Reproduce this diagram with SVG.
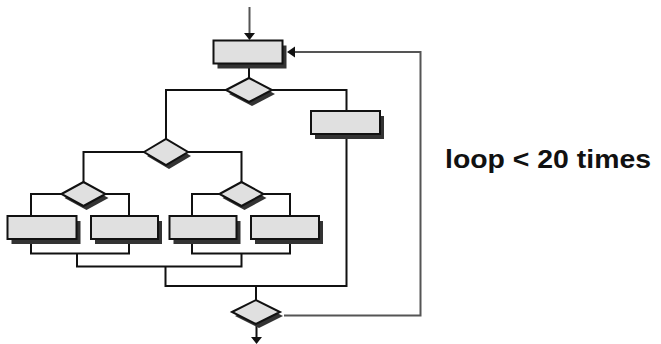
<svg xmlns="http://www.w3.org/2000/svg" width="661" height="344" viewBox="0 0 661 344">
<style>
.box{fill:#e0e0e0;stroke:#111;stroke-width:2}
.sh{fill:#333;stroke:none}
.ln{fill:none;stroke:#111;stroke-width:2}
.gl{fill:none;stroke:#555;stroke-width:2}
.ah{fill:#111;stroke:none}
.lbl{font-family:"Liberation Sans",Arial,sans-serif;font-weight:bold;font-size:25px;fill:#111}
</style>
<rect width="661" height="344" fill="#fff"/>
<g id="connectors">
<path class="gl" d="M249.5,7 V34"/>
<polygon class="ah" points="244,33 255,33 249.5,40"/>
<path class="ln" d="M249,63.5 V78"/>
<path class="ln" d="M226,90 H166 V139"/>
<path class="ln" d="M272,90 H346.5 V111"/>
<path class="ln" d="M144,152 H83.5 V182"/>
<path class="ln" d="M188,152 H241.5 V182"/>
<path class="ln" d="M61.5,194 H31 V216"/>
<path class="ln" d="M105.5,194 H129 V216"/>
<path class="ln" d="M219.5,194 H192 V216"/>
<path class="ln" d="M263.5,194 H290 V216"/>
<path class="ln" d="M31,239 V253.5 H129 V239"/>
<path class="ln" d="M192,239 V253.5 H290 V239"/>
<path class="ln" d="M77,253.5 V266.5 H241.5 V253.5"/>
<path class="ln" d="M165.5,266.5 V286 H346.5 V134"/>
<path class="ln" d="M256,286 V300"/>
<path class="ln" d="M256.5,324 V338"/>
<polygon class="ah" points="251,337 262,337 256.5,344"/>
<path class="gl" d="M284,315.5 H420.5 V52 H293"/>
<polygon class="ah" points="287,52 295,46.5 295,57.5"/>
</g>
<g id="boxA"><rect class="sh" x="217.5" y="45.5" width="69" height="23"/><rect class="box" x="213.5" y="40.5" width="69" height="23"/></g>
<g id="d1"><polygon class="sh" points="229,94 252,82 275,94 252,106"/><polygon class="box" points="226,90 249,78 272,90 249,102"/></g>
<g id="boxB"><rect class="sh" x="315" y="116" width="69" height="23"/><rect class="box" x="311" y="111" width="69" height="23"/></g>
<g id="d2"><polygon class="sh" points="147,156 169,143 191,156 169,169"/><polygon class="box" points="144,152 166,139 188,152 166,165"/></g>
<g id="d3"><polygon class="sh" points="64.5,198 86.5,186 108.5,198 86.5,210"/><polygon class="box" points="61.5,194 83.5,182 105.5,194 83.5,206"/></g>
<g id="d4"><polygon class="sh" points="222.5,198 244.5,186 266.5,198 244.5,210"/><polygon class="box" points="219.5,194 241.5,182 263.5,194 241.5,206"/></g>
<g id="box1"><rect class="sh" x="11.5" y="221" width="69" height="23"/><rect class="box" x="7.5" y="216" width="69" height="23"/></g>
<g id="box2"><rect class="sh" x="95" y="221" width="67" height="23"/><rect class="box" x="91" y="216" width="67" height="23"/></g>
<g id="box3"><rect class="sh" x="173.5" y="221" width="67" height="23"/><rect class="box" x="169.5" y="216" width="67" height="23"/></g>
<g id="box4"><rect class="sh" x="255" y="221" width="68" height="23"/><rect class="box" x="251" y="216" width="68" height="23"/></g>
<g id="d5"><polygon class="sh" points="235,316 259,304 283,316 259,328"/><polygon class="box" points="232,312 256,300 280,312 256,324"/></g>
<g id="label"><text class="lbl" x="445" y="167.5" textLength="206" lengthAdjust="spacingAndGlyphs">loop &lt; 20 times</text></g>
</svg>
